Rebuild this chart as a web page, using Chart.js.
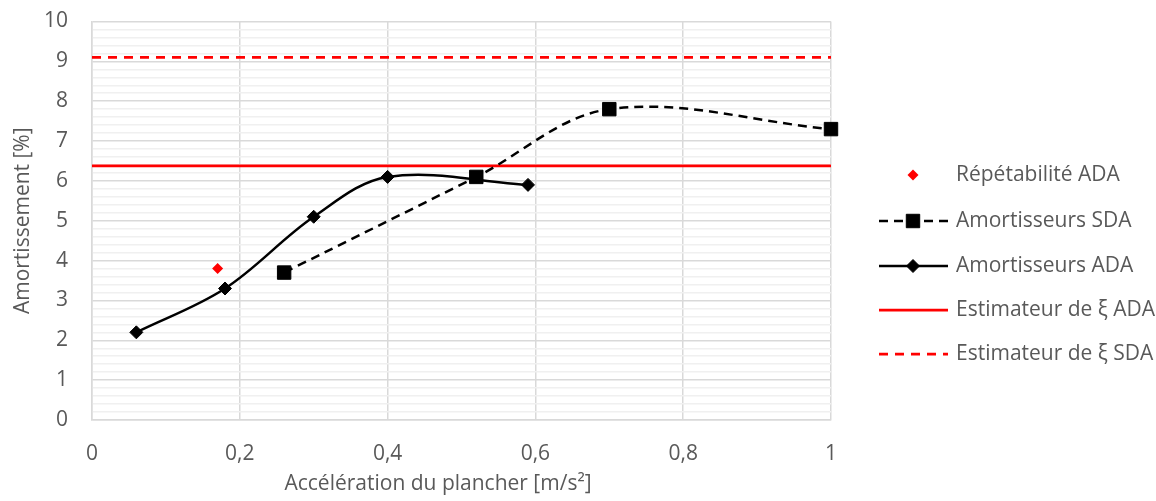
<!DOCTYPE html>
<html lang="fr">
<head>
<meta charset="utf-8">
<title>Amortissement</title>
<script src="https://cdn.jsdelivr.net/npm/chart.js@4"></script>
<style>
  html, body { margin: 0; padding: 0; background: #fff; }
  #wrap { width: 1156px; height: 501px; position: relative; }
</style>
</head>
<body>
<div id="wrap"><canvas id="dampingChart"></canvas></div>
<script>
  'use strict';

  /* ─── Data ─── */
  const seriesLabels = ['Répétabilité ADA', 'Amortisseurs SDA', 'Amortisseurs ADA', 'Estimateur de ξ ADA', 'Estimateur de ξ SDA'];
  const repX = [0.17];
  const repY = [3.8];
  const sdaX = [0.26, 0.52, 0.70, 1.00];
  const sdaY = [3.7, 6.1, 7.8, 7.3];
  const adaX = [0.06, 0.18, 0.30, 0.40, 0.59];
  const adaY = [2.2, 3.3, 5.1, 6.1, 5.9];
  const estX = [0, 1];
  const estAdaY = [6.38, 6.38];
  const estSdaY = [9.1, 9.1];
  const xTitle = 'Accélération du plancher [m/s²]';
  const yTitle = 'Amortissement [%]';

  const RED   = '#ff0000';
  const BLACK = '#000000';
  const TEXT  = '#595959';
  const GRID  = '#d9d9d9';
  const MINOR = '#f0f0f0';
  const FONT  = "'Open Sans', 'DejaVu Sans', sans-serif";
  const FSIZE = 21;

  function pts(xs, ys) {
    return xs.map(function (x, i) { return { x: x, y: ys[i] }; });
  }

  function fmt(v) {
    return String(Math.round(v * 10) / 10).replace('.', ',');
  }

  function isWhole(v) {
    return Math.abs(v - Math.round(v)) < 1e-6;
  }

  /* ─── Legend and x title drawn by hand ─── */
  function drawMarker(ctx, ds, x, y) {
    ctx.save();
    ctx.fillStyle = ds.pointBackgroundColor;
    ctx.strokeStyle = ds.pointBorderColor;
    ctx.lineWidth = ds.pointBorderWidth;
    Chart.helpers.drawPoint(ctx, {
      pointStyle: ds.pointStyle,
      rotation: 0,
      radius: ds.pointRadius,
      borderWidth: ds.pointBorderWidth
    }, x, y);
    ctx.restore();
  }

  const sideLegend = {
    id: 'sideLegend',
    afterDraw: function (chart) {
      const ctx = chart.ctx;
      const x0 = 879, x1 = 948, xm = 913, xt = 956;
      const rows = [175, 221, 266, 310, 354];
      ctx.save();
      chart.data.datasets.forEach(function (ds, i) {
        const y = rows[i];
        if (ds.showLine !== false) {
          ctx.beginPath();
          ctx.setLineDash(ds.borderDash || []);
          ctx.lineWidth = ds.borderWidth;
          ctx.strokeStyle = ds.borderColor;
          ctx.moveTo(x0, y);
          ctx.lineTo(x1, y);
          ctx.stroke();
          ctx.setLineDash([]);
        }
        if (ds.pointRadius > 0) drawMarker(ctx, ds, xm, y);
        ctx.fillStyle = TEXT;
        ctx.font = FSIZE + 'px ' + FONT;
        ctx.textAlign = 'left';
        ctx.textBaseline = 'middle';
        ctx.fillText(ds.label, xt, y);
      });

      // x axis title sits a little left of the plot centre
      ctx.fillStyle = TEXT;
      ctx.font = FSIZE + 'px ' + FONT;
      ctx.textAlign = 'center';
      ctx.textBaseline = 'middle';
      ctx.fillText(xTitle, 438, 484);
      ctx.restore();
    }
  };

  const canvas = document.getElementById('dampingChart');

  new Chart(canvas, {
    type: 'scatter',
    data: {
      datasets: [{
        label: seriesLabels[0],
        data: pts(repX, repY),
        showLine: false,
        pointStyle: 'rectRot',
        pointRadius: 5.5,
        pointBackgroundColor: RED,
        pointBorderColor: RED,
        pointBorderWidth: 0,
        borderColor: RED,
        clip: false
      }, {
        label: seriesLabels[1],
        data: pts(sdaX, sdaY),
        showLine: true,
        tension: 0.35,
        borderColor: BLACK,
        borderWidth: 2.5,
        borderDash: [9, 6],
        pointStyle: 'rect',
        pointRadius: 9.5,
        pointBackgroundColor: BLACK,
        pointBorderColor: BLACK,
        pointBorderWidth: 1,
        clip: false
      }, {
        label: seriesLabels[2],
        data: pts(adaX, adaY),
        showLine: true,
        tension: 0.35,
        borderColor: BLACK,
        borderWidth: 2.5,
        pointStyle: 'rectRot',
        pointRadius: 6.5,
        pointBackgroundColor: BLACK,
        pointBorderColor: BLACK,
        pointBorderWidth: 1,
        clip: false
      }, {
        label: seriesLabels[3],
        data: pts(estX, estAdaY),
        showLine: true,
        borderColor: RED,
        borderWidth: 2.75,
        pointRadius: 0,
        clip: false
      }, {
        label: seriesLabels[4],
        data: pts(estX, estSdaY),
        showLine: true,
        borderColor: RED,
        borderWidth: 2.75,
        borderDash: [9, 7],
        pointRadius: 0,
        clip: false
      }]
    },
    options: {
      responsive: true,
      maintainAspectRatio: false,
      animation: false,
      layout: { padding: { top: 21.5, right: 325, left: 0, bottom: 0 } },
      plugins: {
        legend: { display: false },
        tooltip: { enabled: false }
      },
      scales: {
        x: {
          type: 'linear',
          min: 0,
          max: 1,
          afterFit: function (s) { s.height = 81; },
          ticks: {
            stepSize: 0.2,
            color: TEXT,
            font: { family: FONT, size: FSIZE },
            padding: 21,
            callback: function (v) { return fmt(v); }
          },
          grid: { color: GRID, lineWidth: 1.5, drawTicks: false },
          border: { color: GRID, width: 1.5 }
        },
        y: {
          type: 'linear',
          min: 0,
          max: 10,
          afterFit: function (s) {
            s.width = 92;
            s.paddingTop = 0;
            s.paddingBottom = 0;
          },
          ticks: {
            stepSize: 0.2,
            autoSkip: false,
            color: TEXT,
            font: { family: FONT, size: FSIZE },
            padding: 24,
            callback: function (v) { return isWhole(v) ? fmt(v) : ''; }
          },
          grid: {
            drawTicks: false,
            lineWidth: 1.5,
            color: function (c) { return c.tick && isWhole(c.tick.value) ? GRID : MINOR; }
          },
          border: { color: GRID, width: 1.5 },
          title: {
            display: true,
            text: yTitle,
            color: TEXT,
            font: { family: FONT, size: FSIZE },
            padding: { top: 10, bottom: 0 }
          }
        }
      }
    },
    plugins: [sideLegend]
  });
</script>
</body>
</html>
